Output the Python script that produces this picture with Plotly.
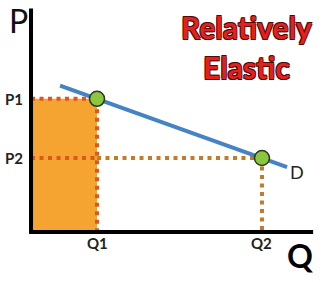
import plotly.graph_objects as go

# economic values (arbitrary units)
quantities = [2, 7]          # Q1, Q2
prices = [9, 5]              # P1, P2
q_labels = ["Q1", "Q2"]
p_labels = ["P1", "P2"]
demand_q = [0.88, 7.76]      # demand line extent
q_max = 8.55
p_max = 15.1

slope = (prices[1] - prices[0]) / (quantities[1] - quantities[0])
demand_p = [prices[0] + slope * (q - quantities[0]) for q in demand_q]

RED_DOT = "#e0561c"
BROWN_DOT = "#c27a2c"
DASH = "4px,4.5px"
FONT = "Lato"

fig = go.Figure()

# revenue rectangle
fig.add_trace(go.Scatter(
    x=[0, quantities[0], quantities[0], 0, 0],
    y=[0, 0, prices[0], prices[0], 0],
    fill="toself", fillcolor="#f6a431", mode="lines",
    line=dict(width=0), hoverinfo="skip"))

# P2 dotted line (inside rect part red, outside brown)
fig.add_trace(go.Scatter(x=[0, quantities[0]], y=[prices[1]] * 2, mode="lines",
                         line=dict(color=RED_DOT, width=4, dash=DASH)))
fig.add_trace(go.Scatter(x=[quantities[0], quantities[1]], y=[prices[1]] * 2, mode="lines",
                         line=dict(color=BROWN_DOT, width=4, dash=DASH)))
# Q2 vertical
fig.add_trace(go.Scatter(x=[quantities[1]] * 2, y=[prices[1], 0], mode="lines",
                         line=dict(color=BROWN_DOT, width=4, dash=DASH)))
# rect border top & right
fig.add_trace(go.Scatter(x=[0, quantities[0], quantities[0]], y=[prices[0], prices[0], 0], mode="lines",
                         line=dict(color=RED_DOT, width=4, dash=DASH)))

# axes
fig.add_trace(go.Scatter(x=[0, 0, q_max], y=[p_max, 0, 0], mode="lines",
                         line=dict(color="#000000", width=4)))

# demand curve
fig.add_trace(go.Scatter(x=demand_q, y=demand_p, mode="lines",
                         line=dict(color="#4584c4", width=4)))
# points
fig.add_trace(go.Scatter(x=quantities, y=prices, mode="markers",
                         marker=dict(size=15, color="#8cc63f", line=dict(color="#2b3a1c", width=1.5))))

ann = []
lab_font = dict(family=FONT, size=15, color="#222222", weight="bold")
for q, t in zip(quantities, q_labels):
    ann.append(dict(x=q, y=0, text=t, showarrow=False, yshift=-11, xanchor="center",
                    yanchor="middle", font=lab_font))
for p, t in zip(prices, p_labels):
    ann.append(dict(x=0, y=p, text=t, showarrow=False, xshift=-17, xanchor="center",
                    yanchor="middle", font=lab_font))
ann.append(dict(x=0, y=p_max, text="P", showarrow=False, xshift=-13, yshift=-12,
                font=dict(family=FONT, size=32, color="#111111")))
ann.append(dict(x=q_max, y=0, text="Q", showarrow=False, xshift=-13, yshift=-24,
                font=dict(family=FONT, size=32, color="#000000", weight="bold")))
ann.append(dict(x=demand_q[1], y=demand_p[1], text="D", showarrow=False, xshift=10, yshift=-5,
                font=dict(family=FONT, size=18, color="#222222")))
shadow = ("0.8px 0.8px 0 #4a0a0a, -0.8px -0.8px 0 #4a0a0a, 0.8px -0.8px 0 #4a0a0a, -0.8px 0.8px 0 #4a0a0a")
title_font = dict(family=FONT, size=30, color="#e4201c", weight="bold", shadow=shadow)
ann.append(dict(xref="paper", yref="paper", x=246 / 325, y=1 - 27 / 282, text="Relatively",
                showarrow=False, xanchor="center", yanchor="middle", font=title_font))
ann.append(dict(xref="paper", yref="paper", x=246 / 325, y=1 - 67 / 282, text="Elastic",
                showarrow=False, xanchor="center", yanchor="middle", font=title_font))

fig.update_layout(
    width=325, height=282, margin=dict(l=0, r=0, t=0, b=0),
    paper_bgcolor="white", plot_bgcolor="white", showlegend=False,
    xaxis=dict(range=[-0.94, 8.91], visible=False, fixedrange=True),
    yaxis=dict(range=[-3.38, 15.68], visible=False, fixedrange=True),
    annotations=ann,
)
fig.write_html("out.html")
